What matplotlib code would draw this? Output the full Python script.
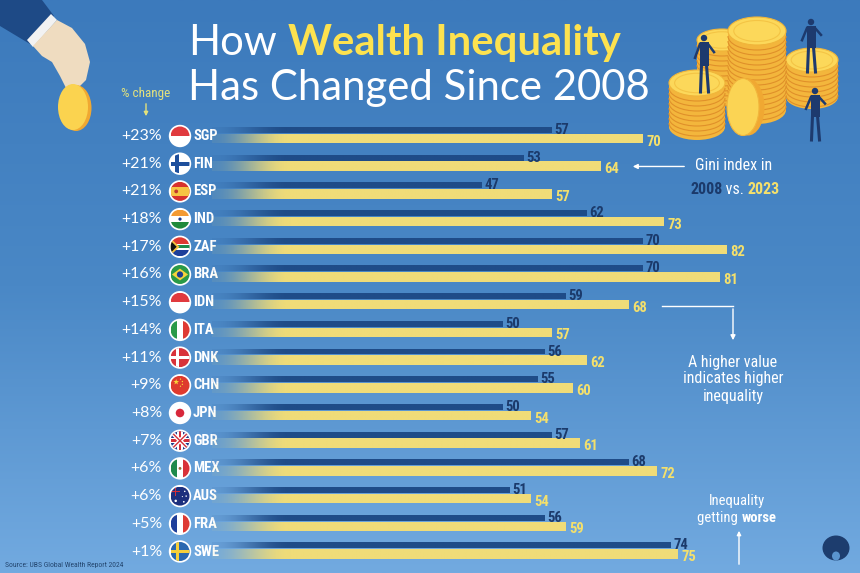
import numpy as np
import matplotlib
matplotlib.use('Agg')
import matplotlib.pyplot as plt
from matplotlib import patches, transforms
from matplotlib.colors import to_rgb, LinearSegmentedColormap

# ---------------- data ----------------
countries = ['SGP', 'FIN', 'ESP', 'IND', 'ZAF', 'BRA', 'IDN', 'ITA',
             'DNK', 'CHN', 'JPN', 'GBR', 'MEX', 'AUS', 'FRA', 'SWE']
pct_change = ['+23%', '+21%', '+21%', '+18%', '+17%', '+16%', '+15%', '+14%',
              '+11%', '+9%', '+8%', '+7%', '+6%', '+6%', '+5%', '+1%']
gini_2008 = [57, 53, 47, 62, 70, 70, 59, 50, 56, 55, 50, 57, 68, 51, 56, 74]
gini_2023 = [70, 64, 57, 73, 82, 81, 68, 57, 62, 60, 54, 61, 72, 54, 59, 75]

# ---------------- styles ----------------
W, H = 860, 573
TITLE_FONT = ['Lato', 'DejaVu Sans']
COND = ['Roboto Condensed', 'Roboto', 'DejaVu Sans']
C_DARK = '#1f4c88'
C_YEL = '#f0dc78'
C_NAVY_TXT = '#1b3a6b'
C_YEL_TXT = '#f4e06c'
C_TITLE_Y = '#fde24f'

fig = plt.figure(figsize=(W / 100, H / 100), dpi=100)

# background / decoration axes in pixel coordinates
bg = fig.add_axes([0, 0, 1, 1])
bg.set_xlim(0, W)
bg.set_ylim(H, 0)
bg.axis('off')
cmap = LinearSegmentedColormap.from_list('bgc', ['#3c7abc', '#4a88c6', '#72aae0'])
grad = np.linspace(0, 1, 256).reshape(-1, 1)
bg.imshow(grad, cmap=cmap, extent=[0, W, H, 0], aspect='auto', zorder=0)
bg.set_xlim(0, W)
bg.set_ylim(H, 0)

# main bar axes
px0, px_per = 152.0, 7.0          # value -> pixel mapping
row0, row_step = 136.0, 27.7       # row -> pixel mapping
ax_left_px, ax_right_px = 212.0, 790.0
y_top_row, y_bot_row = -0.65, 15.6
top_px = row0 + y_top_row * row_step
bot_px = row0 + y_bot_row * row_step
ax = fig.add_axes([ax_left_px / W, 1 - bot_px / H,
                   (ax_right_px - ax_left_px) / W, (bot_px - top_px) / H])
xl = (ax_left_px - px0) / px_per
xr = (ax_right_px - px0) / px_per
ax.set_xlim(xl, xr)
ax.set_ylim(y_bot_row, y_top_row)
ax.axis('off')
ax.patch.set_alpha(0)

rows = np.arange(len(countries))
dark_bars = ax.barh(rows - 0.22, gini_2008, height=0.21, color='none', edgecolor='none')
yel_bars = ax.barh(rows + 0.09, gini_2023, height=0.34, color='none', edgecolor='none')


def gradient_fill(patch, color, ramp=11.0):
    x1 = patch.get_x() + patch.get_width()
    y0, h = patch.get_y(), patch.get_height()
    xs = np.linspace(xl, x1, 400)
    t = np.clip((xs - xl) / ramp, 0, 1)
    alpha = 0.08 + 0.92 * (t * t * (3 - 2 * t))
    img = np.zeros((1, xs.size, 4))
    img[..., :3] = to_rgb(color)
    img[..., 3] = alpha
    im = ax.imshow(img, extent=[xl, x1, y0 + h, y0], aspect='auto',
                   interpolation='bilinear', zorder=2)
    im.set_clip_path(patch)


for p in dark_bars:
    gradient_fill(p, C_DARK)
for p in yel_bars:
    gradient_fill(p, C_YEL)
ax.set_xlim(xl, xr)
ax.set_ylim(y_bot_row, y_top_row)

for i, (d, y) in enumerate(zip(gini_2008, gini_2023)):
    ax.text(d + 0.45, i - 0.22, str(d), color=C_NAVY_TXT, fontsize=10.5, fontweight='bold',
            family=COND, va='center', ha='left', zorder=4)
    ax.text(y + 0.6, i + 0.2, str(y), color=C_YEL_TXT, fontsize=10.5, fontweight='bold',
            family=COND, va='center', ha='left', zorder=4)

blend = transforms.blended_transform_factory(bg.transData, ax.transData)
for i, (c, pc) in enumerate(zip(countries, pct_change)):
    bg.text(162, i, pc, transform=blend, color='white', fontsize=11.5, family=TITLE_FONT,
            va='center', ha='right', zorder=5)
    bg.text(193, i, c, transform=blend, color='white', fontsize=10.5, fontweight='bold',
            family=COND, va='center', ha='left', zorder=5)


def row_px(i):
    return H - ax.transData.transform((xl, i))[1]


# ---------------- flags ----------------
def star_poly(cx, cy, r_out, r_in, n=5, rot=-90):
    pts = []
    for k in range(2 * n):
        r = r_out if k % 2 == 0 else r_in
        a = np.deg2rad(rot + k * 180 / n)
        pts.append((cx + r * np.cos(a), cy + r * np.sin(a)))
    return pts


def flag(code, cx, cy, r=9.5):
    bg.add_patch(patches.Circle((cx, cy), r + 1.7, fc='white', ec='none', zorder=4))
    clip = patches.Circle((cx, cy), r, fc='white', ec='none', zorder=4)
    bg.add_patch(clip)
    items = []

    def R(u0, v0, u1, v1, col):
        items.append(patches.Rectangle((cx + u0 * r, cy + v0 * r), (u1 - u0) * r, (v1 - v0) * r,
                                       fc=col, ec='none'))

    def P(pts, col, **kw):
        items.append(patches.Polygon([(cx + u * r, cy + v * r) for u, v in pts], closed=True,
                                     fc=col, ec='none', **kw))

    def C(u, v, rr, col):
        items.append(patches.Circle((cx + u * r, cy + v * r), rr * r, fc=col, ec='none'))

    def L(pts, col, lw):
        ln, = bg.plot([cx + u * r for u, v in pts], [cy + v * r for u, v in pts],
                      color=col, lw=lw, zorder=4.2, solid_capstyle='butt')
        ln.set_clip_path(clip)

    if code == 'SGP':
        R(-1, -1, 1, 0, '#e03a3e')
    elif code == 'FIN':
        R(-1, -0.2, 1, 0.2, '#1e4f9c'); R(-0.5, -1, -0.1, 1, '#1e4f9c')
    elif code == 'ESP':
        R(-1, -1, 1, 1, '#d8322d'); R(-1, -0.5, 1, 0.5, '#f6c543')
        C(-0.4, 0, 0.2, '#c0392b')
    elif code == 'IND':
        R(-1, -1, 1, -0.33, '#f39a33'); R(-1, 0.33, 1, 1, '#1f8a3b'); C(0, 0, 0.17, '#1b3a8c')
    elif code == 'ZAF':
        R(-1, -1, 1, 0, '#de3831'); R(-1, 0, 1, 1, '#1d3f9a')
        R(-1, -0.3, 1, 0.3, 'white'); R(-1, -0.17, 1, 0.17, '#1f8a4c')
        P([(-1, -0.9), (-0.05, 0), (-1, 0.9)], '#f5c23e')
        P([(-1, -0.65), (-0.35, 0), (-1, 0.65)], '#111111')
    elif code == 'BRA':
        R(-1, -1, 1, 1, '#2a9a48'); P([(-0.85, 0), (0, -0.62), (0.85, 0), (0, 0.62)], '#f7d43c')
        C(0, 0, 0.33, '#1f3f8f')
    elif code == 'IDN':
        R(-1, -1, 1, 0, '#e03a3e')
    elif code == 'ITA':
        R(-1, -1, -0.33, 1, '#2a9a48'); R(0.33, -1, 1, 1, '#de3a34')
    elif code == 'DNK':
        R(-1, -1, 1, 1, '#d8323a'); R(-1, -0.15, 1, 0.15, 'white'); R(-0.42, -1, -0.12, 1, 'white')
    elif code == 'CHN':
        R(-1, -1, 1, 1, '#de3a2e'); P(star_poly(-0.4, -0.35, 0.32, 0.13), '#f8d43a')
        for (u, v) in [(0.05, -0.65), (0.25, -0.4), (0.25, -0.1), (0.05, 0.1)]:
            C(u, v, 0.07, '#f8d43a')
    elif code == 'JPN':
        C(0, 0, 0.45, '#d8283a')
    elif code == 'GBR':
        R(-1, -1, 1, 1, '#1f3a8a')
        L([(-1, -1), (1, 1)], 'white', 3.0); L([(-1, 1), (1, -1)], 'white', 3.0)
        L([(-1, -1), (1, 1)], '#d32f3a', 1.0); L([(-1, 1), (1, -1)], '#d32f3a', 1.0)
        R(-1, -0.28, 1, 0.28, 'white'); R(-0.28, -1, 0.28, 1, 'white')
        R(-1, -0.15, 1, 0.15, '#d32f3a'); R(-0.15, -1, 0.15, 1, '#d32f3a')
    elif code == 'MEX':
        R(-1, -1, -0.33, 1, '#1f8a4c'); R(0.33, -1, 1, 1, '#d8323a'); C(0, 0, 0.15, '#9a6b3a')
    elif code == 'AUS':
        R(-1, -1, 1, 1, '#1c2f7d')
        R(-1, -0.52, 0, -0.38, 'white'); R(-0.57, -1, -0.43, 0, 'white')
        R(-1, -0.49, 0, -0.41, '#d32f3a'); R(-0.54, -1, -0.46, 0, '#d32f3a')
        for (u, v, s) in [(-0.45, 0.5, 0.13), (0.5, -0.5, 0.08), (0.65, 0.0, 0.08), (0.4, 0.6, 0.09), (0.25, 0.05, 0.06)]:
            C(u, v, s, 'white')
    elif code == 'FRA':
        R(-1, -1, -0.33, 1, '#1f3f9a'); R(0.33, -1, 1, 1, '#de3a34')
    elif code == 'SWE':
        R(-1, -1, 1, 1, '#2a68b0'); R(-1, -0.17, 1, 0.17, '#f6cf3a'); R(-0.45, -1, -0.13, 1, '#f6cf3a')

    for it in items:
        it.set_zorder(4.1)
        bg.add_patch(it)
        it.set_clip_path(clip)


for i, c in enumerate(countries):
    flag(c, 180, row_px(i))

# ---------------- text helpers ----------------
renderer = fig.canvas.get_renderer()


def runs(x, y, parts, size, family, ha='left', va='baseline', zorder=6):
    texts = []
    cur = x
    for s, col, wt in parts:
        t = bg.text(cur, y, s, color=col, fontsize=size, fontweight=wt, family=family,
                    ha='left', va=va, zorder=zorder)
        w = t.get_window_extent(renderer).width
        texts.append(t)
        cur += w
    total = cur - x
    if ha == 'center':
        for t in texts:
            tx, ty = t.get_position()
            t.set_position((tx - total / 2, ty))
    return total


def space_w(size, family, wt):
    a = bg.text(0, 0, 'H H', fontsize=size, family=family, fontweight=wt)
    b = bg.text(0, 0, 'HH', fontsize=size, family=family, fontweight=wt)
    w = a.get_window_extent(renderer).width - b.get_window_extent(renderer).width
    a.remove(); b.remove()
    return w


# title
TS = 30.2
sw = space_w(TS, TITLE_FONT, 'normal')
t1 = bg.text(188, 55, 'How', color='white', fontsize=TS, family=TITLE_FONT, va='baseline', zorder=6)
w1 = t1.get_window_extent(renderer).width
bg.text(188 + w1 + sw, 55, 'Wealth Inequality', color=C_TITLE_Y, fontsize=TS, fontweight='bold',
        family=TITLE_FONT, va='baseline', zorder=6)
bg.text(188, 100, 'Has Changed Since 2008', color='white', fontsize=TS, family=TITLE_FONT,
        va='baseline', zorder=6)

# % change header
bg.text(146, 93, '% change', color='#e3e27c', fontsize=9.5, family=COND, ha='center', va='center', zorder=6)
bg.annotate('', xy=(146, 119), xytext=(146, 101),
            arrowprops=dict(arrowstyle='-|>', color='#e3e27c', lw=1, mutation_scale=6), zorder=6)

# Gini annotation
bg.text(734, 166, 'Gini index in', color='white', fontsize=11.5, family=COND, ha='center',
        va='center', zorder=6)
runs(735, 194, [('2008', C_NAVY_TXT, 'bold'), (' vs. ', 'white', 'normal'), ('2023', C_YEL_TXT, 'bold')],
     11.5, COND, ha='center')
bg.annotate('', xy=(630, 1.1), xytext=(687, 1.1), xycoords=blend, textcoords=blend,
            arrowprops=dict(arrowstyle='-|>', color='white', lw=1, mutation_scale=7), zorder=6)

# higher value annotation
bg.plot([662, 733], [6.14, 6.14], transform=blend, color='white', lw=1, zorder=6)
bg.annotate('', xy=(733, 343), xytext=(733, row_px(6.14)),
            arrowprops=dict(arrowstyle='-|>', color='white', lw=1, mutation_scale=7), zorder=6)
for k, line in enumerate(['A higher value', 'indicates higher', 'inequality']):
    bg.text(733, 362 + 17 * k, line, color='white', fontsize=11.5, family=COND, ha='center',
            va='center', zorder=6)

# getting worse annotation
bg.text(737, 501, 'Inequality', color='white', fontsize=10.5, family=COND, ha='center', va='center', zorder=6)
runs(737, 522, [('getting ', 'white', 'normal'), ('worse', 'white', 'bold')], 10.5, COND, ha='center')
bg.annotate('', xy=(739, 528), xytext=(739, 567),
            arrowprops=dict(arrowstyle='-|>', color='white', lw=1, mutation_scale=6), zorder=6)

# source
bg.text(5, 565, 'Source: UBS Global Wealth Report 2024', color='#24466f', fontsize=5.5,
        family=COND, ha='left', va='center', zorder=6)

# logo
bg.add_patch(patches.Ellipse((836, 548), 27, 25, fc='#1d3d6e', ec='none', zorder=6))
bg.add_patch(patches.Ellipse((836, 556), 8, 9, fc='#5a95cf', ec='none', zorder=6))


# ---------------- illustrations ----------------
def coin_stack(cx, top, bottom, w, eh, z):
    side, ridge, face = '#f3b63c', '#e0902a', '#fcd85a'
    bg.add_patch(patches.Rectangle((cx - w / 2, top), w, bottom - top, fc=side, ec='none', zorder=z))
    bg.add_patch(patches.Ellipse((cx, bottom), w, eh, fc=side, ec='none', zorder=z))
    yy = top + 5
    while yy <= bottom:
        bg.add_patch(patches.Arc((cx, yy), w, eh, theta1=0, theta2=180, ec=ridge, lw=0.8, zorder=z))
        yy += 5
    bg.add_patch(patches.Ellipse((cx, top), w, eh, fc=face, ec='#f0b53a', lw=0.8, zorder=z))
    bg.add_patch(patches.Ellipse((cx, top), w * 0.8, eh * 0.75, fc='none', ec='#f4c445', lw=0.8, zorder=z))


def man(x, head_y, feet_y, z):
    col = '#1d3a6e'
    hh = feet_y - head_y
    bg.add_patch(patches.Circle((x, head_y + 3), 3.2, fc=col, ec='none', zorder=z))
    bg.add_patch(patches.Rectangle((x - 4.5, head_y + 7), 9, hh * 0.42, fc=col, ec='none', zorder=z))
    bg.plot([x - 2.5, x - 3.5], [head_y + 7 + hh * 0.4, feet_y], color=col, lw=2.2, zorder=z)
    bg.plot([x + 2.5, x + 4.5], [head_y + 7 + hh * 0.4, feet_y], color=col, lw=2.2, zorder=z)
    bg.plot([x - 4, x - 9], [head_y + 9, head_y + hh * 0.4], color=col, lw=1.8, zorder=z)
    bg.plot([x + 4, x + 10], [head_y + 9, head_y + hh * 0.3], color=col, lw=1.8, zorder=z)


coin_stack(722, 40, 95, 50, 22, 3)
coin_stack(757, 31, 110, 58, 28, 3.2)
coin_stack(812, 60, 97, 52, 24, 3.1)
coin_stack(697, 83, 127, 56, 26, 3.3)
bg.add_patch(patches.Ellipse((748, 107), 33, 57, fc='#f0a832', ec='none', zorder=3.4))
bg.add_patch(patches.Ellipse((743, 107), 32, 57, fc='#fbd454', ec='#f1b63c', lw=0.8, zorder=3.45))
man(704, 35, 92, 3.6)
man(811, 19, 72, 3.6)
man(815, 88, 140, 3.6)

# hand with coin
bg.add_patch(patches.Polygon([(0, 0), (42, 0), (54, 16), (30, 44), (0, 26)], fc='#1e4a86', ec='none', zorder=3))
bg.add_patch(patches.Polygon([(27, 40), (51, 14), (57, 20), (33, 47)], fc='#f2f2f2', ec='none', zorder=3.1))
bg.add_patch(patches.Polygon([(33, 46), (57, 20), (72, 28), (85, 44), (90, 62), (86, 80), (76, 90),
                              (66, 88), (60, 76), (52, 62), (42, 56)], fc='#efdcc0', ec='none', zorder=3.2))
bg.add_patch(patches.Ellipse((76, 108), 31, 46, fc='#f0a832', ec='none', zorder=3.3))
bg.add_patch(patches.Ellipse((73, 107), 30, 46, fc='#fbd34f', ec='none', zorder=3.4))

fig.savefig('out.png', dpi=100)
